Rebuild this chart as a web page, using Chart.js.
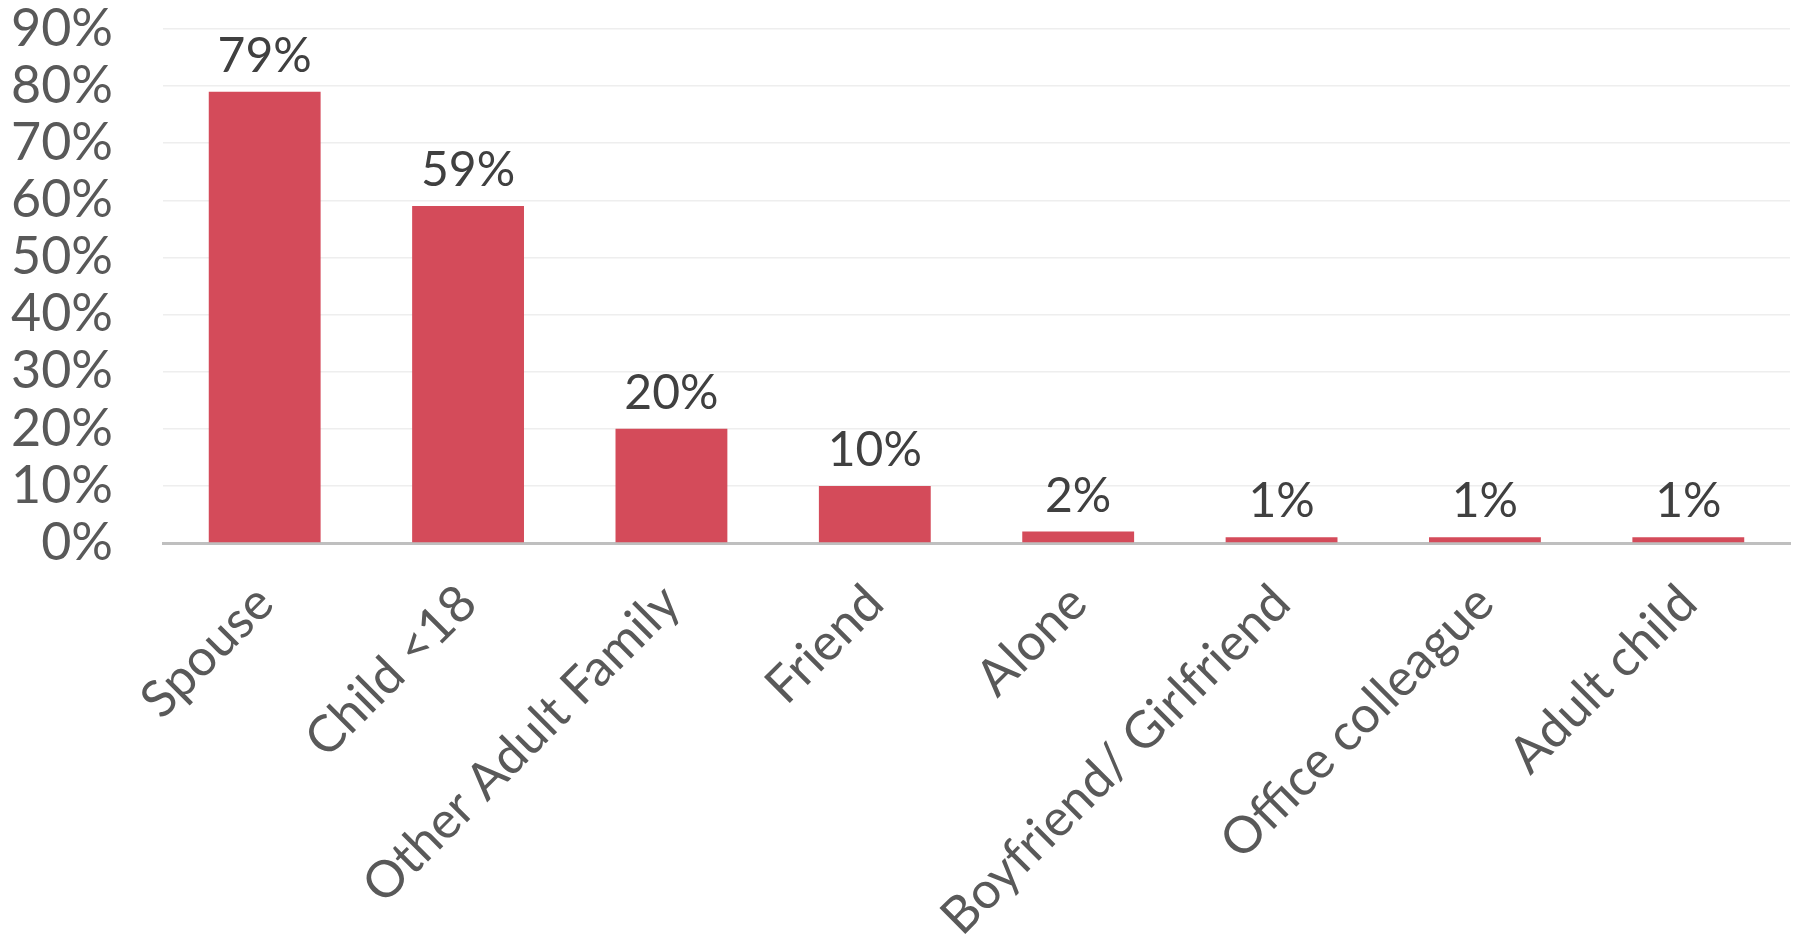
<!DOCTYPE html>
<html>
<head>
<meta charset="utf-8">
<script src="https://cdn.jsdelivr.net/npm/chart.js@4.4.1/dist/chart.umd.min.js"></script>
<style>
  html, body { margin: 0; padding: 0; background: #fff; }
  #wrap { width: 1798px; height: 945px; }
</style>
</head>
<body>
<div id="wrap"><canvas id="grafico"></canvas></div>
<script>
const categorias = ["Spouse", "Child <18", "Other Adult Family", "Friend", "Alone", "Boyfriend/ Girlfriend", "Office colleague", "Adult child"];
const valores = [79, 59, 20, 10, 2, 1, 1, 1];
const ticksY = [0, 10, 20, 30, 40, 50, 60, 70, 80, 90];

const fonte = "Lato, 'Open Sans', sans-serif";

// rotulos de valor acima das barras
const rotulosPlugin = {
  id: "rotulos",
  afterDatasetsDraw(chart) {
    const ctx = chart.ctx;
    const meta = chart.getDatasetMeta(0);
    ctx.save();
    ctx.font = "48px " + fonte;
    ctx.fillStyle = "#404040";
    ctx.textAlign = "center";
    ctx.textBaseline = "alphabetic";
    meta.data.forEach((bar, i) => {
      ctx.fillText(valores[i] + "%", bar.x, bar.y - 20);
    });
    ctx.restore();
  }
};

new Chart(document.getElementById("grafico"), {
  type: "bar",
  data: {
    labels: categorias,
    datasets: [{
      data: valores,
      backgroundColor: "#D44B5A",
      barPercentage: 0.55,
      categoryPercentage: 1.0
    }]
  },
  options: {
    responsive: true,
    maintainAspectRatio: false,
    animation: false,
    layout: { padding: { top: 0, right: 8, left: 0, bottom: 0 } },
    plugins: { legend: { display: false }, tooltip: { enabled: false } },
    scales: {
      x: {
        grid: { display: false },
        border: { color: "#BFBFBF", width: 3 },
        ticks: {
          color: "#595959",
          font: { family: fonte, size: 51 },
          maxRotation: 45,
          minRotation: 45,
          autoSkip: false,
          padding: 22
        },
        afterFit(scale) { scale.height = 402; }
      },
      y: {
        min: 0,
        max: 90,
        afterBuildTicks(scale) { scale.ticks = ticksY.map(v => ({ value: v })); },
        grid: { color: "#EEEEEE", lineWidth: 1.5, drawTicks: false },
        border: { display: false },
        ticks: {
          color: "#595959",
          font: { family: fonte, size: 52 },
          padding: 50,
          autoSkip: false,
          callback: v => v + "%"
        },
        afterFit(scale) {
          scale.width = 163;
          scale.paddingTop = 29;
        }
      }
    }
  },
  plugins: [rotulosPlugin]
});
</script>
</body>
</html>
